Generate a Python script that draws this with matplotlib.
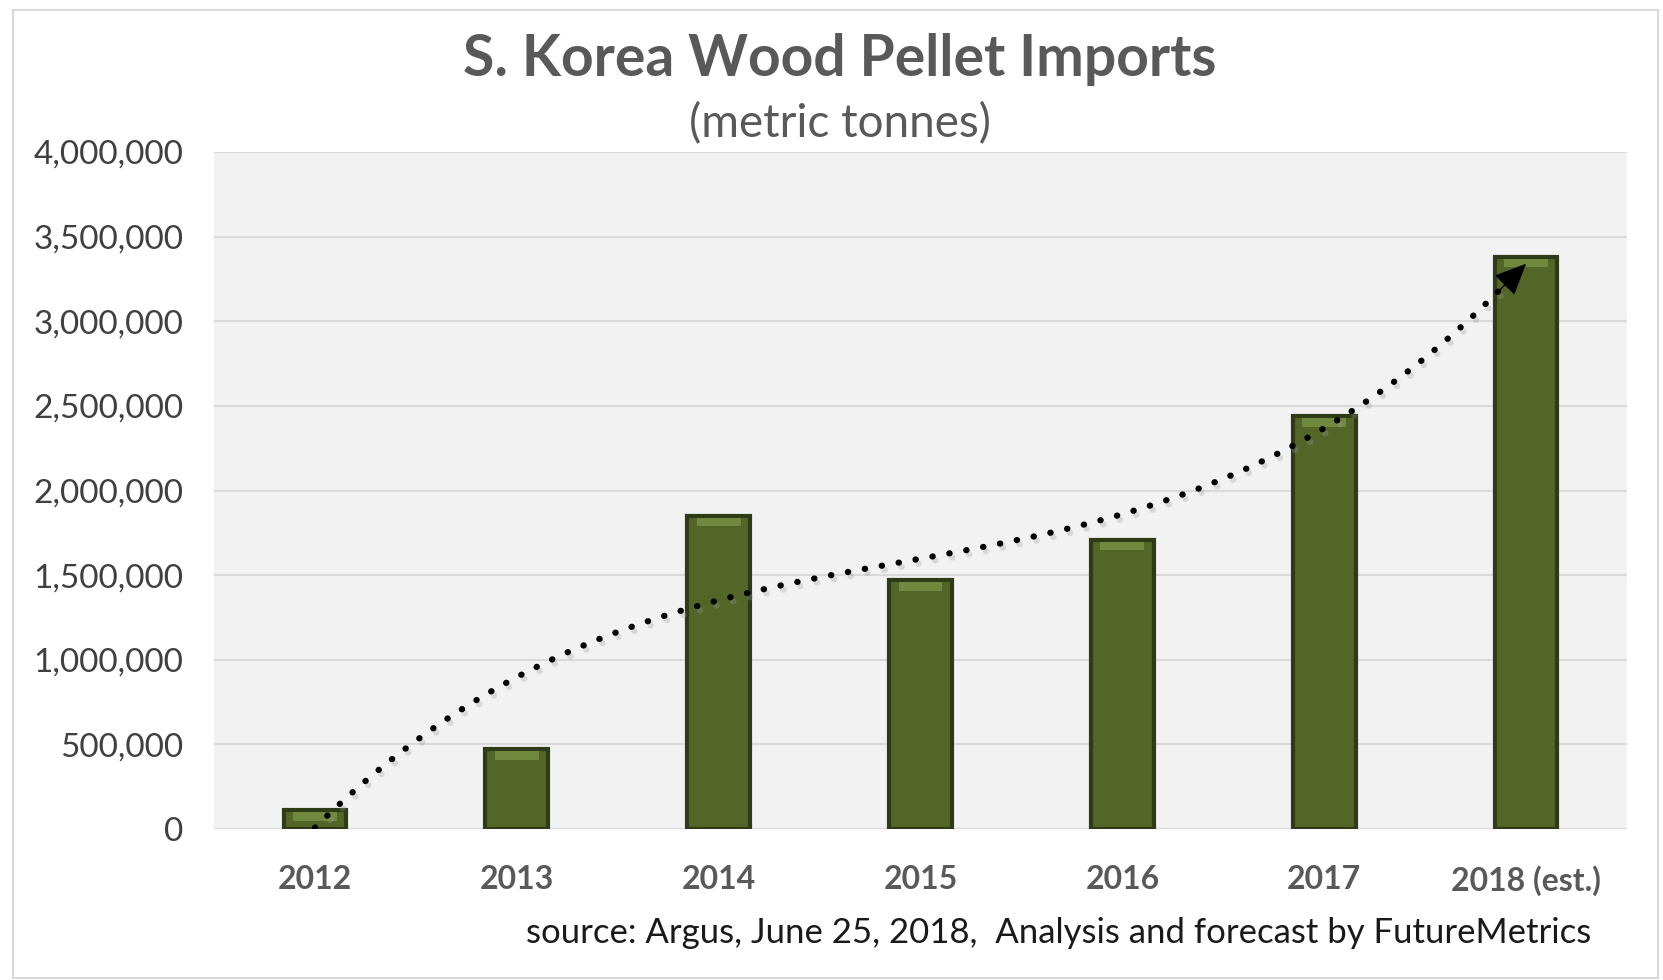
import numpy as np
import matplotlib
matplotlib.use("Agg")
import matplotlib.pyplot as plt
import matplotlib.patheffects as pe
from matplotlib.ticker import FuncFormatter
from matplotlib.patches import Rectangle

# ---- data ----
categories = ["2012", "2013", "2014", "2015", "2016", "2017", "2018 (est.)"]
imports = [110000, 470000, 1850000, 1470000, 1710000, 2440000, 3380000]
# hand-drawn trend arrow, read at each category
trend = [0, 920000, 1330000, 1610000, 1840000, 2390000, 3340000]
yticks = [0, 500000, 1000000, 1500000, 2000000, 2500000, 3000000, 3500000, 4000000]

title = "S. Korea Wood Pellet Imports"
subtitle = "(metric tonnes)"
source = "source: Argus, June 25, 2018,  Analysis and forecast by FutureMetrics"

plt.rcParams['font.family'] = ['Lato', 'DejaVu Sans']

fig = plt.figure(figsize=(16.63, 9.80), dpi=100)
fig.patch.set_facecolor('white')
# outer border
fig.add_artist(Rectangle((13/1663, 2/980), 1645/1663, 968/980, transform=fig.transFigure,
                         fill=False, edgecolor='#d9d9d9', linewidth=1.5))

ax = fig.add_axes([214/1663, 1 - 829/980, (1627 - 214)/1663, (829 - 152)/980])
ax.set_facecolor('#f2f2f2')
for s in ax.spines.values():
    s.set_visible(False)

x = np.arange(len(categories))
w = 0.31
ax.bar(x, imports, width=w, color='#536628', edgecolor='#2f3b16', linewidth=3, zorder=3)
# bevel highlight at top of each bar
hl = 50000
ax.bar(x, [hl] * len(x), bottom=np.array(imports) - hl - 12000, width=w * 0.7,
       color='#71883f', linewidth=0, zorder=4)

ax.set_xlim(-0.5, len(categories) - 0.5)
ax.set_ylim(0, 4000000)
ax.set_yticks(yticks)
ax.yaxis.set_major_formatter(FuncFormatter(lambda v, p: f"{int(v):,}"))
ax.grid(axis='y', color='#d9d9d9', linewidth=1.5, zorder=0)
ax.set_axisbelow(True)
ax.tick_params(axis='both', length=0)
ax.tick_params(axis='y', labelsize=24, labelcolor='#404040', pad=22)
ax.set_xticks(x)
ax.set_xticklabels(categories, fontsize=23, fontweight='bold', color='#595959')
ax.tick_params(axis='x', pad=26)

# trend curve (smooth cubic through read points)
coef = np.polyfit(x, trend, 3)
xs = np.linspace(0, x[-1] - 0.09, 200)
ys = np.polyval(coef, xs)
ax.plot(xs, ys, color='black', linewidth=4.5, linestyle=(0, (0.05, 2.7)),
        dash_capstyle='round', zorder=6,
        path_effects=[pe.SimpleLineShadow(offset=(2, -3), shadow_color='#999999', alpha=0.3),
                      pe.Normal()])
x0 = x[-1] - 0.13
ax.annotate("", xy=(x[-1], trend[-1]), xytext=(x0, np.polyval(coef, x0)),
            arrowprops=dict(arrowstyle='-|>,head_length=2.0,head_width=0.9',
                            color='black', lw=1, shrinkA=0, shrinkB=0), zorder=7)

fig.text(0.505, 1 - 60/980, title, ha='center', va='center', fontsize=41,
         fontweight='bold', color='#595959')
fig.text(0.505, 1 - 124/980, subtitle, ha='center', va='center', fontsize=33,
         color='#595959')
fig.text(1591/1663, 1 - 933/980, source, ha='right', va='center', fontsize=25,
         color='#1a1a1a')

fig.savefig("out.png", dpi=100)
